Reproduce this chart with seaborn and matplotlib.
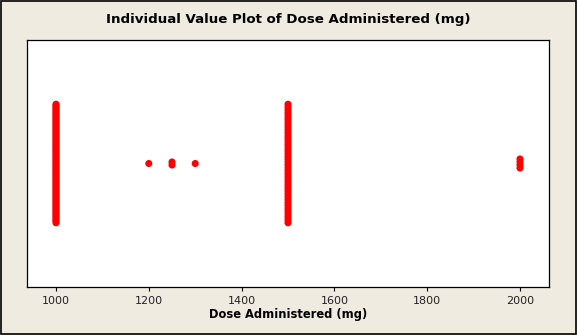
import numpy as np
import pandas as pd
import matplotlib
matplotlib.use("Agg")
import matplotlib.pyplot as plt
import seaborn as sns

# Doses recorded and how many subjects received each
dose_levels = [1000, 1200, 1250, 1300, 1500, 2000]
dose_counts = [80, 1, 2, 1, 42, 4]

x_ticks = [1000, 1200, 1400, 1600, 1800, 2000]
title = "Individual Value Plot of Dose Administered (mg)"
x_label = "Dose Administered (mg)"

# Expand to one row per observation, stacking tied values symmetrically
rows = []
max_span = 0.96
step = 0.0245
for dose, n in zip(dose_levels, dose_counts):
    gap = step if n < 2 else min(step, max_span / (n - 1))
    offsets = (np.arange(n) - (n - 1) / 2) * gap
    for off in offsets:
        rows.append({"dose": dose, "offset": off})
df = pd.DataFrame(rows)

sns.set_theme(style="white")
plt.rcParams["font.family"] = ["DejaVu Sans"]

bg = "#EFEBE1"
fig = plt.figure(figsize=(5.77, 3.35), dpi=100, facecolor=bg)
ax = fig.add_axes([27 / 577, 1 - 287 / 335, 522 / 577, 247 / 335])
ax.set_facecolor("white")

sns.scatterplot(data=df, x="dose", y="offset", ax=ax, color="#FF0000",
                s=26, edgecolor="none", linewidth=0, legend=False)

ax.set_xlim(937.5, 2062.5)
ax.set_ylim(-1, 1)
ax.set_xticks(x_ticks)
ax.set_xticklabels([str(t) for t in x_ticks], fontsize=8, color="#222222")
ax.set_yticks([])
ax.tick_params(axis="x", direction="out", length=3, width=0.8, color="black",
               bottom=True, pad=3.5)
for sp in ax.spines.values():
    sp.set_color("black")
    sp.set_linewidth(0.9)

ax.set_xlabel(x_label, fontsize=8.3, fontweight="bold", labelpad=1.5, color="black")
ax.set_ylabel("")
fig.text(0.5, 1 - 20 / 335, title, ha="center", va="center",
         fontsize=9.6, fontweight="bold", color="black")

# Outer frame around the whole figure
frame = plt.Rectangle((0.001, 0.002), 0.997, 0.995, transform=fig.transFigure,
                      fill=False, edgecolor="black", linewidth=1.2)
fig.patches.append(frame)

fig.savefig("out.png", dpi=100, facecolor=bg)
